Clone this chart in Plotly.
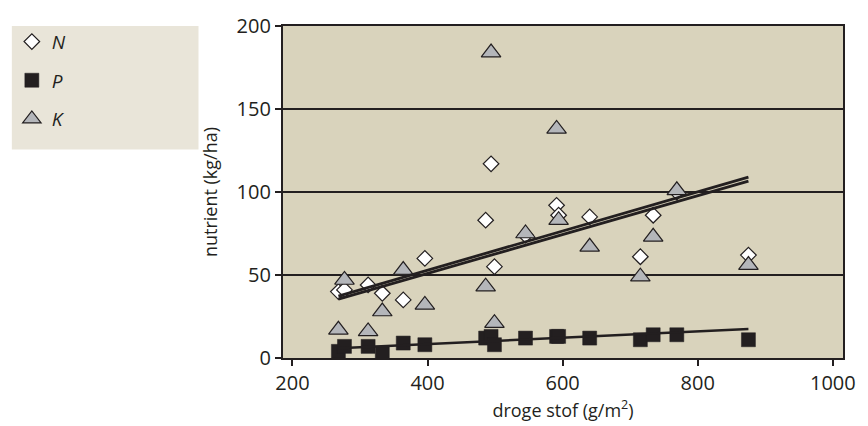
import plotly.graph_objects as go

# Dry matter yield per plot (g/m2) and nutrient uptake (kg/ha)
dry_matter = [268, 277, 312, 333, 364, 396, 486, 494, 499, 545, 591, 594, 640, 715, 734, 769, 875]
nutrient_N = [40, 41, 44, 39, 35, 60, 83, 117, 55, 74, 92, 86, 85, 61, 86, 100, 62]
nutrient_P = [4, 7, 7, 3, 9, 8, 12, 13, 8, 12, 13, 13, 12, 11, 14, 14, 11]
nutrient_K = [17, 47, 16, 28, 53, 32, 43, 184, 21, 75, 138, 83, 67, 49, 73, 101, 56]

# Linear trendlines (slope per g/m2, intercept in kg/ha)
trend_names = ["N", "P", "K"]
trend_slope = [0.1181, 0.0193, 0.1171]
trend_intercept = [5.65, 0.65, 4.12]

x_ticks = [200, 400, 600, 800, 1000]
y_ticks = [0, 50, 100, 150, 200]

INK = "#231f20"
FONT = "Open Sans"

fig = go.Figure()

fig.add_trace(go.Scatter(
    x=dry_matter, y=nutrient_N, mode="markers", name="<i>N</i>",
    legendgroup="N",
    marker=dict(symbol="diamond", size=12, color="white",
                line=dict(color=INK, width=1.2)),
))
fig.add_trace(go.Scatter(
    x=dry_matter, y=nutrient_P, mode="markers", name="<i>P</i>",
    legendgroup="P",
    marker=dict(symbol="square", size=14, color=INK,
                line=dict(color=INK, width=0.5)),
))
fig.add_trace(go.Scatter(
    x=dry_matter, y=nutrient_K, mode="markers", name="<i>K</i>",
    legendgroup="K",
    marker=dict(symbol="triangle-up", size=17, color="#b4b6ba",
                line=dict(color=INK, width=1.2)),
))

x_lo, x_hi = min(dry_matter), max(dry_matter)
for name, a, b in zip(trend_names, trend_slope, trend_intercept):
    width = 2.5 if name == "P" else 2.8
    fig.add_trace(go.Scatter(
        x=[x_lo, x_hi], y=[b + a * x_lo, b + a * x_hi],
        mode="lines", line=dict(color=INK, width=width),
        showlegend=False, hoverinfo="skip",
    ))

# legend panel
fig.add_shape(type="rect", xref="paper", yref="paper",
              x0=-0.4842, x1=-0.1509, y0=0.628, y1=1.0,
              fillcolor="#e9e5d9", line=dict(width=0), layer="below")

axis_common = dict(
    showline=True, linecolor=INK, linewidth=2.2, mirror=True,
    ticks="outside", ticklen=6, tickwidth=1.5, tickcolor=INK,
    tickfont=dict(family=FONT, size=20, color=INK),
    zeroline=False,
)

fig.update_xaxes(
    range=[186, 1015], tickvals=x_ticks, showgrid=False,
    title=dict(text="droge stof (g/m<sup>2</sup>)",
               font=dict(family=FONT, size=18, color=INK), standoff=5),
    **axis_common,
)
fig.update_yaxes(
    range=[0, 200], tickvals=y_ticks, showgrid=True,
    gridcolor=INK, gridwidth=1.5,
    title=dict(text="nutrient (kg/ha)",
               font=dict(family=FONT, size=18, color=INK), standoff=14),
    **axis_common,
)

fig.update_layout(
    width=868, height=426,
    margin=dict(l=281, r=17, t=19, b=63),
    paper_bgcolor="white", plot_bgcolor="#d9d3bc",
    font=dict(family=FONT, color=INK),
    legend=dict(
        x=-0.4842, y=1.01, xanchor="left", yanchor="top",
        bgcolor="rgba(0,0,0,0)", borderwidth=0,
        font=dict(family=FONT, size=19, color=INK),
        tracegroupgap=11, itemsizing="trace",
    ),
    showlegend=True,
)

fig.write_html("out.html")
